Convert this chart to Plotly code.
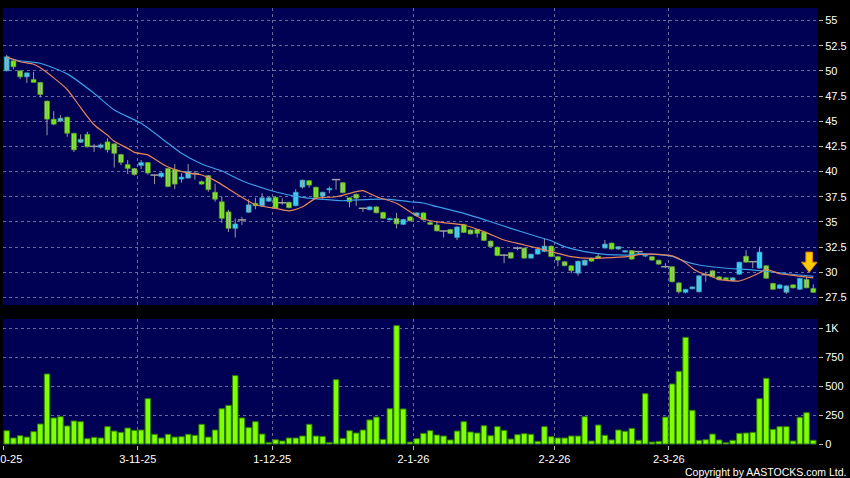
import plotly.graph_objects as go

# ---------------- data ----------------
opens = [50.0, 51.0, 50.0, 49.4, 49.15, 48.85, 47.0, 45.2, 45.0, 45.4,
         43.8, 42.9, 43.7, 42.5, 42.4, 42.95, 42.75, 41.7, 40.7, 40.3,
         40.6, 40.9, 39.65, 39.5, 40.3, 40.2, 39.25, 39.35, 39.8, 39.0,
         39.6, 37.95, 37.0, 36.0, 34.35, 35.2, 35.95, 36.85, 36.6, 37.05,
         37.45, 36.9, 36.95, 36.6, 38.45, 39.1, 38.45, 37.55, 38.17, 39.2,
         38.9, 37.4, 37.75, 36.35, 36.2, 36.5, 35.95, 35.2, 35.35, 34.75,
         35.5, 35.6, 35.9, 34.95, 34.7, 34.1, 34.25, 33.45, 34.75, 34.2,
         34.25, 34.0, 33.1, 32.5, 31.7, 31.95, 32.4, 32.4, 31.4, 31.8,
         32.05, 32.6, 31.55, 31.05, 30.65, 29.9, 30.7, 31.4, 31.6, 32.4,
         32.9, 32.3, 32.0, 32.15, 32.05, 31.6, 31.55, 31.2, 30.55, 30.55,
         28.95, 28.0, 28.35, 28.05, 29.75, 30.15, 29.55, 29.45, 29.15, 29.8,
         31.6, 31.05, 30.4, 30.65, 28.9, 28.4, 28.0, 28.75, 28.3, 29.3,
         28.4]
highs = [51.6, 51.1, 50.05, 49.85, 49.9, 48.9, 47.05, 46.0, 45.6, 45.45,
         43.85, 43.7, 43.95, 42.75, 42.8, 43.3, 42.8, 41.75, 41.15, 40.35,
         41.15, 40.95, 39.7, 39.95, 40.35, 40.75, 39.85, 40.75, 40.05, 39.1,
         39.65, 38.8, 37.5, 36.2, 35.35, 35.5, 37.25, 37.4, 37.85, 37.45,
         37.5, 37.35, 37.0, 38.25, 39.2, 39.15, 38.5, 38.0, 38.5, 39.2,
         38.95, 37.45, 37.8, 36.4, 36.55, 36.55, 36.0, 35.4, 35.9, 35.3,
         35.55, 35.95, 35.95, 35.0, 35.1, 34.15, 34.3, 34.55, 34.8, 34.25,
         34.3, 34.05, 33.15, 32.55, 31.8, 32.0, 32.55, 32.45, 31.85, 32.35,
         33.35, 32.65, 31.6, 31.1, 30.7, 31.15, 31.25, 31.45, 31.9, 33.2,
         32.95, 32.6, 32.2, 32.2, 32.1, 31.8, 31.6, 31.25, 30.9, 30.6,
         29.0, 28.35, 28.6, 29.7, 30.05, 30.2, 29.6, 29.5, 29.5, 31.05,
         32.2, 31.1, 32.55, 30.7, 28.95, 28.8, 28.7, 28.8, 29.45, 29.55,
         28.8]
lows = [49.95, 50.15, 49.2, 48.8, 48.85, 47.35, 43.6, 44.6, 44.9, 43.45,
        41.95, 42.85, 42.4, 41.95, 42.27, 41.9, 40.4, 40.65, 39.75, 39.6,
        40.25, 39.7, 38.75, 39.35, 38.45, 38.25, 38.9, 39.3, 39.2, 38.7,
        38.0, 37.0, 34.9, 34.0, 33.45, 34.7, 35.9, 36.25, 36.5, 37.0,
        36.3, 36.7, 36.35, 36.55, 38.3, 38.4, 37.35, 37.3, 37.85, 38.2,
        37.85, 36.45, 36.6, 36.0, 36.15, 35.85, 35.3, 35.15, 34.35, 34.7,
        35.05, 35.55, 35.15, 34.7, 34.05, 33.45, 33.8, 33.2, 33.9, 33.75,
        33.45, 33.1, 32.5, 31.6, 30.9, 31.35, 32.2, 31.35, 31.35, 31.75,
        32.0, 31.5, 30.6, 30.6, 29.9, 29.65, 30.65, 31.05, 31.35, 32.35,
        32.25, 32.25, 31.95, 31.25, 31.9, 31.5, 31.15, 30.75, 30.4, 29.0,
        27.9, 27.9, 28.3, 28.0, 29.05, 29.5, 29.2, 29.2, 29.1, 29.75,
        30.95, 30.4, 30.35, 29.35, 28.25, 28.35, 27.85, 28.4, 28.25, 28.4,
        27.95]
closes = [51.4, 50.4, 49.4, 49.8, 48.85, 47.65, 45.2, 44.7, 45.3, 43.8,
          42.15, 43.2, 42.45, 42.5, 42.65, 42.15, 41.8, 40.9, 40.3, 39.7,
          40.9, 39.85, 39.65, 39.85, 38.5, 38.75, 39.45, 40.0, 39.8, 38.75,
          38.2, 37.25, 35.35, 34.35, 34.8, 35.2, 36.7, 36.6, 37.4, 37.4,
          36.35, 36.9, 36.4, 37.95, 39.15, 38.65, 37.4, 37.95, 38.33, 39.2,
          37.9, 37.0, 37.35, 36.35, 36.5, 35.9, 35.35, 35.35, 34.8, 35.25,
          35.1, 35.9, 35.2, 34.75, 34.1, 34.1, 33.85, 34.5, 33.95, 33.8,
          33.85, 33.15, 32.55, 31.65, 31.7, 31.4, 32.4, 31.4, 31.8, 32.3,
          32.6, 31.55, 31.2, 30.65, 30.15, 31.1, 31.2, 31.1, 31.4, 32.8,
          32.3, 32.55, 32.15, 31.3, 32.05, 31.7, 31.2, 30.8, 30.55, 29.05,
          28.05, 28.3, 28.55, 29.65, 29.75, 29.55, 29.25, 29.25, 29.45, 31.0,
          31.0, 31.05, 32.0, 29.4, 28.3, 28.75, 28.65, 28.45, 29.4, 28.45,
          28.0]
volumes = [115, 52, 72, 60, 107, 173, 605, 225, 236, 156,
           199, 193, 46, 58, 52, 150, 112, 101, 138, 118,
           121, 392, 84, 52, 84, 60, 63, 84, 75, 170,
           60, 121, 305, 334, 591, 225, 141, 193, 86, 14,
           37, 26, 52, 52, 69, 170, 69, 66, 14, 556,
           49, 115, 95, 121, 208, 233, 40, 305, 1023, 303,
           17, 46, 92, 115, 78, 69, 35, 112, 193, 104,
           95, 158, 72, 150, 118, 43, 81, 89, 84, 23,
           150, 63, 52, 52, 69, 69, 236, 26, 164, 75,
           35, 121, 110, 135, 32, 435, 17, 23, 233, 519,
           628, 922, 291, 32, 37, 86, 35, 12, 32, 92,
           95, 101, 392, 568, 127, 150, 150, 26, 231, 271,
           32]

# moving-average lines at these bar numbers
ma_short_bar = [0, 2, 4, 5, 7, 9, 11, 13, 15, 16, 18, 19, 21, 22, 24, 27, 29, 31,
                34, 37, 40, 42, 44, 46, 49, 52, 53, 55, 58, 60, 62, 65, 68, 71,
                74, 77, 80, 82, 84, 87, 90, 93, 94, 96, 99, 101, 102, 103, 104,
                106, 108, 109, 110, 112, 113, 115, 117, 120]
ma_short_val = [51.4, 50.9, 50.65, 50.3, 49.3, 48.15, 46.35, 44.65, 43.6, 43.0,
                42.3, 41.9, 41.65, 41.25, 40.45, 39.85, 39.66, 39.1, 37.85, 36.7,
                36.35, 36.1, 36.5, 37.34, 37.5, 38.0, 38.1, 37.5, 36.85, 36.0,
                35.26, 34.92, 34.69, 34.03, 33.2, 32.71, 32.21, 31.88, 31.55,
                31.38, 31.45, 31.6, 31.75, 31.8, 31.62, 30.95, 30.4, 30.0, 29.8,
                29.3, 29.15, 29.13, 29.35, 29.95, 30.3, 29.85, 29.7, 29.45]
ma_long_bar = [0, 2, 5, 9, 13, 16, 20, 24, 26, 29, 32, 35, 39, 42, 44, 47, 50,
               54, 57, 60, 62, 64, 68, 72, 75, 79, 81, 83, 86, 89, 93, 94, 99,
               101, 103, 104, 107, 110, 113, 116, 120]
ma_long_val = [51.3, 51.0, 50.75, 49.7, 47.77, 46.11, 44.79, 42.8, 41.81, 40.75,
               40.05, 39.09, 38.17, 37.67, 37.44, 37.24, 37.1, 37.24, 37.24, 37.0,
               36.88, 36.51, 35.85, 35.02, 34.36, 33.53, 33.13, 32.54, 32.04,
               31.78, 31.71, 31.85, 31.58, 31.05, 30.72, 30.62, 30.4, 30.29,
               30.1, 29.85, 29.6]

month_start_bar = [0, 20, 40, 61, 82, 99]
month_labels = ["2-10-25", "3-11-25", "1-12-25", "2-1-26", "2-2-26", "2-3-26"]
price_ticks = [27.5, 30, 32.5, 35, 37.5, 40, 42.5, 45, 47.5, 50, 52.5, 55]
vol_ticks = [0, 250, 500, 750, 1000]
vol_tick_text = ["0", "250", "500", "750", "1K"]
arrow_bar = 119.4
arrow_price = 30.0

# ---------------- styling ----------------
BG = "#000000"
PANEL = "#000055"
GRID = "#6a6a9a"
UP = "#38d8ff"
UP_EDGE = "#2391b8"
DOWN = "#7ef01c"
DOWN_EDGE = "#4c9a12"
DOJI = "#a0a0a0"
WICK = "#9a9a9a"
FONT = "Liberation Sans, Arial, sans-serif"

n = len(closes)
xs = list(range(n))

wick_x, wick_y = [], []
for i in xs:
    wick_x += [i, i, None]
    wick_y += [lows[i], highs[i], None]

body_base, body_len, body_col, body_edge = [], [], [], []
doji_x, doji_y = [], []
for i in xs:
    o, c = opens[i], closes[i]
    if c == o:
        doji_x.append(i)
        doji_y.append(c)
        body_base.append(None)
        body_len.append(None)
        body_col.append(DOJI)
        body_edge.append(DOJI)
    else:
        body_base.append(min(o, c))
        body_len.append(abs(c - o))
        body_col.append(UP if c > o else DOWN)
        body_edge.append(UP_EDGE if c > o else DOWN_EDGE)

fig = go.Figure()
fig.add_trace(go.Scatter(x=wick_x, y=wick_y, mode="lines",
                         line=dict(color=WICK, width=1),
                         xaxis="x", yaxis="y", hoverinfo="skip"))
fig.add_trace(go.Bar(x=xs, y=body_len, base=body_base, width=0.74,
                     marker=dict(color=body_col, line=dict(color=body_edge, width=0.6)),
                     xaxis="x", yaxis="y"))
fig.add_trace(go.Scatter(x=doji_x, y=doji_y, mode="markers",
                         marker=dict(symbol="line-ew", size=6,
                                     line=dict(color=DOJI, width=1.5)),
                         xaxis="x", yaxis="y"))
fig.add_trace(go.Scatter(x=ma_long_bar, y=ma_long_val, mode="lines",
                         line=dict(color="#3c9ee6", width=1.2, shape="spline", smoothing=0.6),
                         xaxis="x", yaxis="y"))
fig.add_trace(go.Scatter(x=ma_short_bar, y=ma_short_val, mode="lines",
                         line=dict(color="#e8865a", width=1.2, shape="spline", smoothing=0.6),
                         xaxis="x", yaxis="y"))
fig.add_trace(go.Bar(x=xs, y=volumes, width=0.82,
                     marker=dict(color="#80ff00", line=dict(color="#2e7d00", width=1)),
                     xaxis="x2", yaxis="y2"))

# yellow marker arrow
ax, ay = arrow_bar, arrow_price
hw, sw = 1.16, 0.5
path = (f"M {ax - sw},{ay + 2.0} L {ax + sw},{ay + 2.0} L {ax + sw},{ay + 1.0} "
        f"L {ax + hw},{ay + 1.0} L {ax},{ay} L {ax - hw},{ay + 1.0} "
        f"L {ax - sw},{ay + 1.0} Z")
fig.add_shape(type="path", path=path, xref="x", yref="y",
              fillcolor="#ffcc00", line=dict(color="#e08a00", width=1))

grid_pos = [b - 0.5 for b in month_start_bar]
xrange_ = [-0.55, 120.7]

fig.update_layout(
    width=850, height=478,
    paper_bgcolor=BG, plot_bgcolor=PANEL,
    margin=dict(l=3, r=32, t=8, b=33, autoexpand=False),
    showlegend=False, barmode="overlay",
    font=dict(family=FONT, size=11, color="#ffffff"),
    xaxis=dict(domain=[0, 1], anchor="y", range=xrange_, tickvals=grid_pos,
               showticklabels=False, ticks="", showgrid=True, gridcolor=GRID,
               griddash="3px,3px", gridwidth=1, zeroline=False, showline=False,
               automargin=False),
    xaxis2=dict(domain=[0, 1], anchor="y2", range=xrange_, matches="x",
                tickvals=grid_pos, ticktext=month_labels, ticks="outside",
                ticklen=4, tickcolor="#bbbbbb", showgrid=True, gridcolor=GRID,
                griddash="3px,3px", gridwidth=1, zeroline=False, showline=False,
                ticklabeloverflow="allow", automargin=False,
                tickfont=dict(family=FONT, size=11, color="#ffffff")),
    yaxis=dict(domain=[0.3204, 1], anchor="x", side="right", range=[26.75, 56.24],
               tickvals=price_ticks, ticks="outside", ticklen=4, tickcolor="#bbbbbb",
               showgrid=True, gridcolor=GRID, griddash="3px,3px", gridwidth=1,
               zeroline=False, showline=False, automargin=False,
               tickfont=dict(family=FONT, size=11, color="#ffffff")),
    yaxis2=dict(domain=[0, 0.2883], anchor="x2", side="right", range=[-8.6, 1080],
                tickvals=vol_ticks, ticktext=vol_tick_text, ticks="outside",
                ticklen=4, tickcolor="#bbbbbb", showgrid=True, gridcolor=GRID,
                griddash="3px,3px", gridwidth=1, zeroline=False, showline=False,
                automargin=False,
                tickfont=dict(family=FONT, size=11, color="#ffffff")),
    annotations=[dict(text="Copyright by AASTOCKS.com Ltd.", xref="paper", yref="paper",
                      x=1.0331, y=-0.0618, xanchor="right", yanchor="middle",
                      xshift=3, showarrow=False,
                      font=dict(family=FONT, size=10.5, color="#ffffff"))],
)

fig.write_html("out.html", config={"displayModeBar": False},
               post_script="document.body.style.margin='0px';document.body.style.overflow='hidden';")
